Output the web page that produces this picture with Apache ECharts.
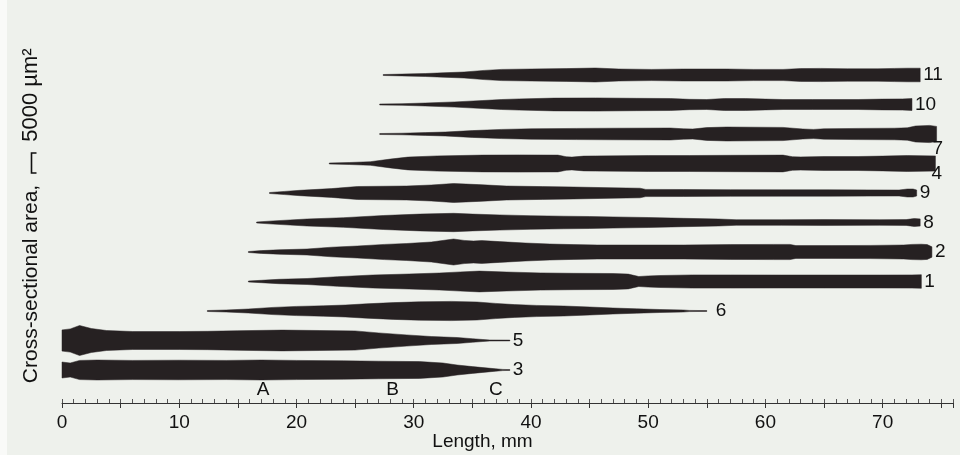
<!DOCTYPE html>
<html><head><meta charset="utf-8">
<script src="https://cdn.jsdelivr.net/npm/echarts@6/dist/echarts.min.js"></script>
<style>html,body{margin:0;padding:0;background:#eef1ec}#c{width:960px;height:455px}</style>
</head><body><div id="c"></div>
<script>
// Fiber cross-sectional area profiles: [length mm, area µm²]
const fiber3 = [[0,4000],[0.7,3500],[1.5,4800],[3,5000],[6,4800],[10,4900],[14,4800],[17,5000],[20,4800],[24,4600],[27,4400],[30.5,4200],[32.5,3500],[33.7,2500],[35,1700],[35.9,1200],[37,600],[37.6,300],[38.2,200]];
const fiber5 = [[0,5300],[0.7,5800],[1.5,7500],[2.5,6000],[3.8,5000],[6,4500],[10,4500],[12.4,4600],[15,4900],[18.8,5200],[22,5000],[25,4800],[27,3800],[29.4,2800],[31.5,2000],[33.7,1500],[35,900],[35.9,500],[36.5,250],[38.2,200]];
const fiber6 = [[12.4,250],[14,500],[15.9,1000],[18,1800],[20,2300],[22.3,2600],[24.2,3000],[26,3600],[28.3,4200],[30.5,4600],[33.2,4800],[35.4,4500],[37,3800],[38.6,3200],[40.5,2800],[42.8,2500],[45,2000],[47,1500],[49,1100],[51,750],[53,500],[53.5,300],[55,200]];
const fiber1 = [[15.9,250],[17,600],[18.5,1100],[20.9,1500],[23.5,2400],[26.5,3250],[29.6,3750],[32.2,4250],[34,4800],[35.6,5200],[37.9,4750],[40.8,4300],[43.6,4100],[47,4000],[48.3,3700],[49.2,2500],[50,2800],[51,3000],[53.8,3300],[57,3300],[61.4,3250],[65,3250],[69.7,3250],[72.5,3300],[73.3,3400]];
const fiber2 = [[15.9,250],[17,700],[18.5,1100],[20.9,1500],[23,2400],[25.2,3000],[27.5,3800],[29.4,4250],[31.5,5000],[33.4,6500],[34.3,5800],[35.1,5500],[35.8,5700],[37.3,5200],[39.5,4500],[41.6,4000],[43.6,3700],[45.7,3500],[49.3,3500],[53,3500],[57,3700],[60.7,3800],[62.1,3800],[62.6,3200],[65.6,3200],[69,3300],[71.8,3500],[72.5,3800],[73.3,3900],[73.8,3700],[74.2,2600]];
const fiber8 = [[16.6,250],[18,800],[20.9,1750],[24,2400],[27.4,3500],[30.5,4200],[33.4,4600],[35,4200],[37.3,3800],[40,3400],[42.8,3150],[45,3000],[47,2800],[50,2500],[53,2100],[56,1750],[57.5,1400],[61.4,1400],[65,1450],[69.7,1400],[72,1450],[72.7,2000],[73.2,1800]];
const fiber9 = [[17.7,250],[19,800],[20.3,1350],[23,2200],[25.2,3250],[29.4,3500],[31.5,4000],[33.4,4750],[35.5,4200],[37.9,3500],[41,3200],[43.6,3000],[47,2600],[49.3,2400],[49.8,1800],[53,1750],[57,1650],[61.4,1600],[65.5,1600],[69,1550],[71.4,1500],[72.1,2000],[72.6,2000],[72.9,1500]];
const fiber4 = [[22.8,250],[24.5,500],[26.3,900],[28,2200],[29.5,3200],[32,3800],[35.9,4200],[39,4300],[42.3,4200],[43,3400],[43.5,3200],[44.5,3700],[45.5,3800],[50,4000],[53.5,4000],[57,4100],[61.5,4200],[62.3,3400],[63,3300],[65,3500],[67.9,3500],[70,3700],[72.1,4000],[74.5,3800]];
const fiber7 = [[27.1,250],[29,400],[31,700],[32.7,1000],[35,1700],[37.5,2300],[40,2600],[43.9,2800],[47,2900],[51.9,3000],[53,2600],[53.8,2500],[55,3200],[56.7,3500],[61.5,3300],[63.2,2500],[64.1,2300],[65,2600],[67.9,2800],[71,2900],[72.1,3100],[72.8,4000],[74,4300],[74.6,3800]];
const fiber10 = [[27.1,250],[29,400],[31,750],[33.5,1300],[35.9,2000],[37.5,2500],[39,2800],[42,3200],[45.5,3300],[49,3100],[51.9,3000],[53.5,2600],[55,2500],[56.5,3000],[58.3,3000],[60,2700],[61.5,2500],[64,2500],[67.9,2500],[70,2700],[71.7,2800],[72.5,3000]];
const fiber11 = [[27.4,250],[29,450],[31,750],[32.5,1100],[34.3,1500],[36,2300],[37.5,2800],[40,3000],[43,3200],[45.5,3500],[47.5,3000],[50.3,2800],[53,3000],[56.7,3000],[59,2800],[61.5,2800],[63,3200],[64.7,3300],[67,3100],[69.6,3100],[71,3300],[72.1,3400],[73.2,3400]];

const fiberNames = ['3','5','6','1','2','8','9','4','7','10','11'];
const fibers = [fiber3, fiber5, fiber6, fiber1, fiber2, fiber8, fiber9, fiber4, fiber7, fiber10, fiber11];
const markerNames = ['A','B','C'];
const markerX = [17.15, 28.2, 37.0];
const scaleBarArea = 5000;

const ROW0 = 8250, ROW_STEP = 7375;
const INK = '#262122', TXT = '#111111';
const FONT = 'Liberation Sans, Arial, sans-serif';

// label items: [x, rowCenter, name, dx, dy]
const labelData = fibers.map((f, i) => {
  const c = ROW0 + i * ROW_STEP;
  const last = f[f.length - 1];
  const n = fiberNames[i];
  let dx = 3, dy = 0;
  if (n === '7') { dx = -4; dy = 15; }
  if (n === '4') { dx = -4; dy = 10; }
  if (n === '6') { dx = 9; }
  return [last[0], c, n, dx, dy];
});
const markerData = markerNames.map((n, j) => [markerX[j], 3250, n]);

// one custom series per fiber: the polygon is built from all its points via api.coord
function fiberSeries(f, i) {
  const c = ROW0 + i * ROW_STEP;
  return {
    type: 'custom', silent: true, z: 3, name: 'fiber ' + fiberNames[i],
    data: f.map(p => [p[0], p[1], c]),
    encode: {x: 0, y: 2},
    renderItem: (params, api) => {
      if (params.dataIndexInside !== 0) return null;
      const n = params.dataInsideLength;
      const top = [], bot = [];
      for (let k = 0; k < n; k++) {
        const x = api.value(0, k), a = api.value(1, k), cc = api.value(2, k);
        top.push(api.coord([x, cc + a / 2]));
        bot.push(api.coord([x, cc - a / 2]));
      }
      return {type: 'polygon', shape: {points: top.concat(bot.reverse())},
        style: {fill: INK, stroke: INK, lineWidth: 0.5}};
    }
  };
}

const chart = echarts.init(document.getElementById('c'), null, {renderer: 'canvas'});
chart.setOption({
  backgroundColor: '#eef1ec',
  animation: false,
  grid: {left: 62, right: 7, top: 10, bottom: 52, outerBoundsMode: 'none', containLabel: false},
  xAxis: [{
    type: 'value', min: 0, max: 76, interval: 5,
    axisLine: {lineStyle: {color: '#333', width: 1}},
    axisTick: {length: 5, lineStyle: {color: '#333'}},
    axisLabel: {margin: 10, color: TXT, fontSize: 19, fontFamily: FONT,
      formatter: v => (v % 10 === 0 ? String(v) : '')},
    splitLine: {show: false},
    name: 'Length, mm', nameLocation: 'middle', nameGap: 29, nameMoveOverlap: false,
    nameTextStyle: {color: TXT, fontSize: 19, fontFamily: FONT, padding: [0, 50, 0, 0]}
  }, {
    type: 'value', min: 0, max: 76, interval: 1, position: 'bottom',
    axisLine: {show: false}, axisLabel: {show: false}, splitLine: {show: false},
    axisTick: {inside: true, length: 4, lineStyle: {color: '#555'}}
  }],
  yAxis: {type: 'value', min: 0, max: 98250, show: false, splitLine: {show: false}},
  series: fibers.map(fiberSeries).concat([{
    type: 'custom', silent: true, z: 5,
    data: labelData,
    encode: {x: 0, y: 1},
    renderItem: (params, api) => {
      const p = api.coord([api.value(0), api.value(1)]);
      return {type: 'text', x: p[0] + api.value(3), y: p[1] + api.value(4),
        style: {text: String(api.value(2)), fill: TXT, fontSize: 19, fontFamily: FONT,
          align: 'left', verticalAlign: 'middle'}};
    }
  }, {
    type: 'custom', silent: true, z: 5,
    data: markerData,
    encode: {x: 0, y: 1},
    renderItem: (params, api) => {
      const p = api.coord([api.value(0), api.value(1)]);
      return {type: 'text', x: p[0], y: p[1],
        style: {text: String(api.value(2)), fill: TXT, fontSize: 19, fontFamily: FONT,
          align: 'center', verticalAlign: 'middle'}};
    }
  }])
});

const y0 = chart.convertToPixel({yAxisIndex: 0}, 0);
const y1 = chart.convertToPixel({yAxisIndex: 0}, scaleBarArea);
const len = Math.abs(y0 - y1);
const cy = 163, bx = 31.5;
chart.setOption({
  graphic: [
    {type: 'rect', left: 0, top: 0, shape: {width: 7, height: 455}, style: {fill: '#f9faf8'}, silent: true},
    {type: 'text', x: 31, y: 284, rotation: Math.PI / 2,
      style: {text: 'Cross-sectional area,', fill: TXT, fontSize: 21, fontFamily: FONT, align: 'center', verticalAlign: 'middle'}},
    {type: 'text', x: 31, y: 95, rotation: Math.PI / 2,
      style: {text: '5000 µm²', fill: TXT, fontSize: 22, fontFamily: FONT, align: 'center', verticalAlign: 'middle'}},
    {type: 'polyline', silent: true,
      shape: {points: [[bx + 5, cy - len / 2], [bx, cy - len / 2], [bx, cy + len / 2], [bx + 5, cy + len / 2]]},
      style: {stroke: TXT, lineWidth: 1.6, fill: null}}
  ]
});
</script></body></html>
